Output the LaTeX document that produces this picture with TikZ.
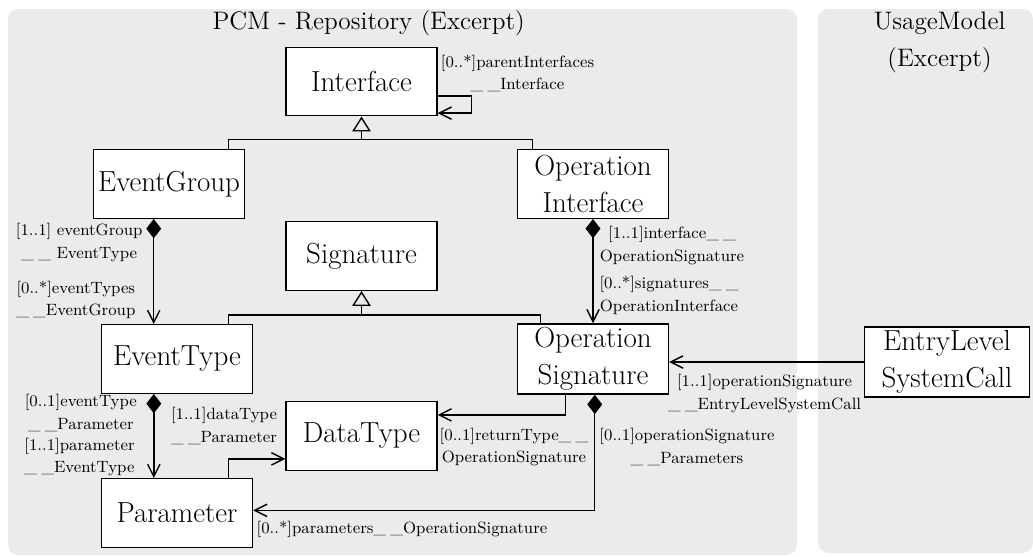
\documentclass[tikz,border=0pt]{standalone}
\usepackage{tikz}
\usetikzlibrary{arrows.meta,
    positioning}
\definecolor{panelgray}{HTML}{EBEBEB}
\newcommand{\usc}{\textunderscore\kern2.5pt\textunderscore}

\begin{document}
\begin{tikzpicture}[x=0.02cm, y=-0.02cm,
                  line width=0.8pt,
                  cls/.style = {draw, fill=white, align=center, inner sep=2pt,
                                minimum width=85.9pt, minimum height=39pt,
                                font=\fontsize{16.5}{21}\selectfont},
                  lbl/.style = {align=center, inner sep=0pt,
                                font=\fontsize{9.3}{13}\selectfont},
                  ttl/.style = {align=center, inner sep=0pt,
                                font=\fontsize{14.4}{21}\selectfont},
                  assoc/.style = {-{Straight Barb[length=7pt,width=7pt]}},
                  compo/.style = {{Diamond[length=11pt,width=8.5pt]}-{Straight Barb[length=7pt,width=7pt]}},
                  inherit/.style = {-{Triangle[open,length=8.5pt,width=10.5pt]}}
                  ]
                  \useasboundingbox (0,0) rectangle (1033,556);
                  % packages
                  \fill[panelgray, rounded corners=6pt] (8,9) rectangle (797,555);
                  \fill[panelgray, rounded corners=6pt] (818,9) rectangle (1033,553);
                  \node[ttl] (pcmtitle) at (368.7,23) {PCM - Repository (Excerpt)};
                  \node[ttl] (usagetitle) at (939.6,42.5) {UsageModel\\(Excerpt)};
                  % classes
                  \node[cls] (iface) at (361.5,81.5) {Interface};
                  \node[cls] (evgroup) at (169,184) {EventGroup};
                  \node[cls] (opiface) at (593,184) {Operation\\Interface};
                  \node[cls] (sig) at (361.5,256) {Signature};
                  \node[cls] (evtype) at (177,359) {EventType};
                  \node[cls] (opsig) at (593,359) {Operation\\Signature};
                  \node[cls] (dtype) at (361.5,436) {DataType};
                  \node[cls] (param) at (177,513) {Parameter};
                  \node[cls, minimum width=93.7pt] (elsc) at (947,362) {EntryLevel\\SystemCall};
                  % inheritance
                  \coordinate (genI) at (361.5,139.3);
                  \draw ([xshift=-9.6pt]evgroup.north east) |- (genI) -| ([xshift=8.9pt]opiface.north west);
                  \draw[inherit] (genI) -- (iface.south);
                  \coordinate (genS) at (361.5,315);
                  \draw ([xshift=-14.1pt]evtype.north east) |- (genS) -| ([xshift=13.3pt]opsig.north west);
                  \draw[inherit] (genS) -- (sig.south);
                  % references
                  \draw[assoc] ([yshift=-8.3pt]iface.east) -- ++(19.3pt,0) |- ([yshift=-18pt]iface.east);
                  \coordinate (egc) at ([xshift=-8.7pt]evgroup.south);
                  \draw[compo] (egc) -- (egc |- evtype.north);
                  \coordinate (etc) at ([xshift=-13.2pt]evtype.south);
                  \draw[compo] (etc) -- (etc |- param.north);
                  \draw[compo] (opiface.south) -- (opsig.north);
                  \draw[compo] ([xshift=1pt]opsig.south) |- ([yshift=1.5pt]param.east);
                  \draw[assoc] ([xshift=-15.5pt]opsig.south) |- ([yshift=12pt]dtype.east);
                  \draw[assoc] ([xshift=-14.1pt]param.north east) |- ([yshift=-13pt]dtype.west);
                  \draw[assoc] (elsc.west) -- (elsc.west -| opsig.east);
                  % role names
                  \node[lbl] (rparent) at (517.5,73.5) {[0..*]parentInterfaces\\\usc Interface};
                  \node[lbl] (revgroup) at (79.2,242.5) {[1..1] eventGroup\\\usc{} EventType};
                  \node[lbl] (revtypes) at (75.8,300) {[0..*]eventTypes\\\usc EventGroup};
                  \node[lbl] (riface) at (672,245.7) {[1..1]interface\usc\\OperationSignature};
                  \node[lbl] (rsigs) at (669,295.8) {[0..*]signatures\usc\\OperationInterface};
                  \node[lbl] (ropsig) at (764.6,393.3) {[1..1]operationSignature\\\usc EntryLevelSystemCall};
                  \node[lbl] (rreturn) at (514,447) {[0..1]returnType\usc\\OperationSignature};
                  \node[lbl] (ropparams) at (687,446.7) {[0..1]operationSignature\\\usc Parameters};
                  \node[lbl] (rparams) at (402,529) {[0..*]parameters\usc OperationSignature};
                  \node[lbl] (rdtype) at (224,426) {[1..1]dataType\\\usc Parameter};
                  \node[lbl] (revtype) at (80.8,413.3) {[0..1]eventType\\\usc Parameter};
                  \node[lbl] (rparam) at (79.5,457) {[1..1]parameter\\\usc EventType};
              \end{tikzpicture}
\end{document}
